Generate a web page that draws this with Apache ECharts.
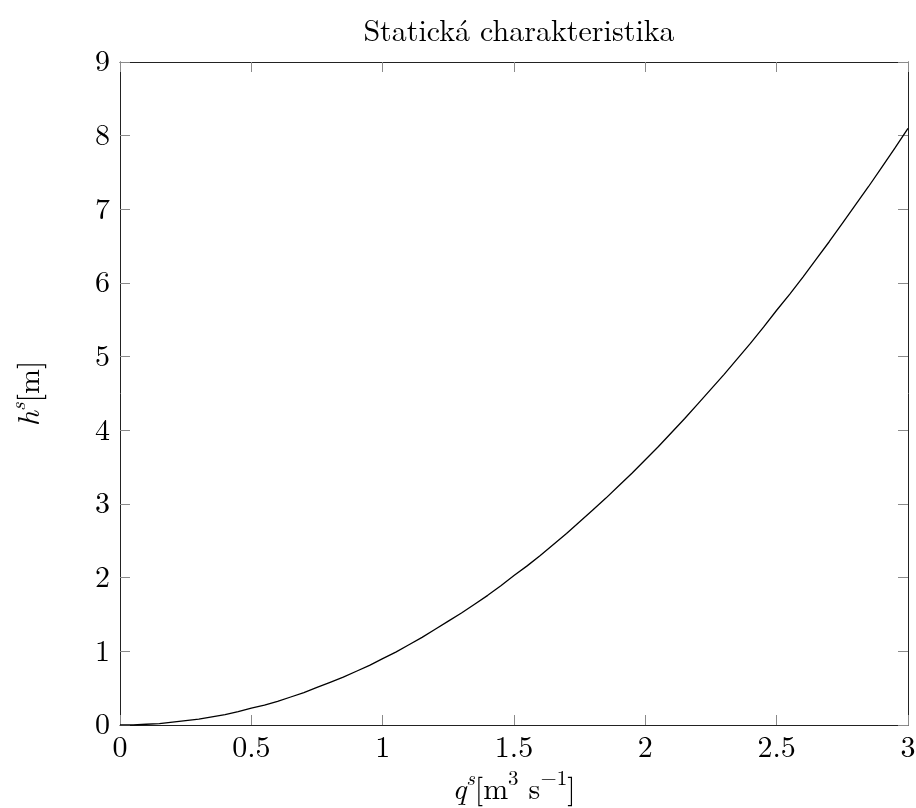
<!DOCTYPE html>
<html>
<head>
<meta charset="utf-8">
<script src="https://cdn.jsdelivr.net/npm/echarts@6/dist/echarts.min.js"></script>
<style>
  html, body { margin: 0; padding: 0; background: #fff; }
  #chart { width: 916px; height: 808px; }
</style>
</head>
<body>
<div id="chart"></div>
<script>
// Flow rate q^s [m^3 s^-1] and steady-state level h^s [m]
var flowValues = [0, 0.05, 0.1, 0.15, 0.2, 0.25, 0.3, 0.35, 0.4, 0.45, 0.5,
                  0.55, 0.6, 0.65, 0.7, 0.75, 0.8, 0.85, 0.9, 0.95, 1.0,
                  1.05, 1.1, 1.15, 1.2, 1.25, 1.3, 1.35, 1.4, 1.45, 1.5,
                  1.55, 1.6, 1.65, 1.7, 1.75, 1.8, 1.85, 1.9, 1.95, 2.0,
                  2.05, 2.1, 2.15, 2.2, 2.25, 2.3, 2.35, 2.4, 2.45, 2.5,
                  2.55, 2.6, 2.65, 2.7, 2.75, 2.8, 2.85, 2.9, 2.95, 3.0];
var levelValues = [0, 0.00, 0.01, 0.02, 0.04, 0.06, 0.08, 0.11, 0.14, 0.18, 0.23,
                   0.27, 0.32, 0.38, 0.44, 0.51, 0.58, 0.65, 0.73, 0.81, 0.9,
                   0.99, 1.09, 1.19, 1.3, 1.41, 1.52, 1.64, 1.76, 1.89, 2.03,
                   2.16, 2.3, 2.45, 2.6, 2.76, 2.92, 3.08, 3.25, 3.42, 3.6,
                   3.78, 3.97, 4.16, 4.36, 4.56, 4.76, 4.97, 5.18, 5.4, 5.63,
                   5.85, 6.08, 6.32, 6.56, 6.81, 7.06, 7.31, 7.57, 7.83, 8.1];

var xTicks = { min: 0, max: 3, interval: 0.5 };
var yTicks = { min: 0, max: 9, interval: 1 };

var titleText = 'Statická charakteristika';

var serif = '"Latin Modern Roman", "CMU Serif", "Liberation Serif", "DejaVu Serif", serif';
var fs = 30;
var supFs = 21;

var points = flowValues.map(function (q, i) { return [q, levelValues[i]]; });

var tickStyle = { show: true, inside: true, length: 10, lineStyle: { color: '#8a8a8a', width: 1 } };
var lineStyle = { show: true, onZero: false, lineStyle: { color: '#222', width: 1 } };

function fmt(v) { return String(v); }

// base tokens sit on the bottom of a tall line box; superscripts are lifted by bottom padding
var richName = {
  i: { fontFamily: serif, fontStyle: 'italic', fontSize: fs, lineHeight: 40, verticalAlign: 'bottom', color: '#000' },
  t: { fontFamily: serif, fontSize: fs, lineHeight: 40, verticalAlign: 'bottom', color: '#000' },
  si: { fontFamily: serif, fontStyle: 'italic', fontSize: supFs, lineHeight: 22, verticalAlign: 'bottom', padding: [0, 0, 16, 0], color: '#000' },
  sup: { fontFamily: serif, fontSize: supFs, lineHeight: 22, verticalAlign: 'bottom', padding: [0, 0, 16, 0], color: '#000' }
};

var chart = echarts.init(document.getElementById('chart'), null, { renderer: 'canvas' });
chart.setOption({
  backgroundColor: '#fff',
  animation: false,
  title: {
    text: titleText,
    left: 514, top: 12, textAlign: 'center',
    textStyle: { fontFamily: serif, fontWeight: 'normal', fontSize: fs, color: '#000' }
  },
  grid: { left: 120, right: 8, top: 62, bottom: 83, containLabel: false, outerBoundsMode: 'none' },
  xAxis: [{
    type: 'value', position: 'bottom',
    min: xTicks.min, max: xTicks.max, interval: xTicks.interval,
    axisLine: lineStyle, axisTick: tickStyle, splitLine: { show: false },
    axisLabel: { margin: 8, fontFamily: serif, fontSize: fs, color: '#000', formatter: fmt },
    name: '{i|q}{si|s}{t|[m}{sup|3}{t| s}{sup|−1}{t|]}',
    nameLocation: 'middle', nameGap: 39,
    nameTextStyle: { rich: richName }
  }, {
    type: 'value', position: 'top',
    min: xTicks.min, max: xTicks.max, interval: xTicks.interval,
    axisLine: lineStyle, axisTick: tickStyle, splitLine: { show: false },
    axisLabel: { show: false }
  }],
  yAxis: [{
    type: 'value', position: 'left',
    min: yTicks.min, max: yTicks.max, interval: yTicks.interval,
    axisLine: lineStyle, axisTick: tickStyle, splitLine: { show: false },
    axisLabel: { margin: 10, fontFamily: serif, fontSize: fs, color: '#000', formatter: fmt },
    name: '{i|h}{si|s}{t|[m]}',
    nameLocation: 'middle', nameGap: 75, nameRotate: 90,
    nameTextStyle: { rich: richName }
  }, {
    type: 'value', position: 'right',
    min: yTicks.min, max: yTicks.max, interval: yTicks.interval,
    axisLine: lineStyle, axisTick: tickStyle, splitLine: { show: false },
    axisLabel: { show: false }
  }],
  series: [{
    type: 'line',
    data: points,
    xAxisIndex: 0, yAxisIndex: 0,
    smooth: false,
    showSymbol: false,
    lineStyle: { color: '#000', width: 1.3 }
  }]
});
</script>
</body>
</html>
